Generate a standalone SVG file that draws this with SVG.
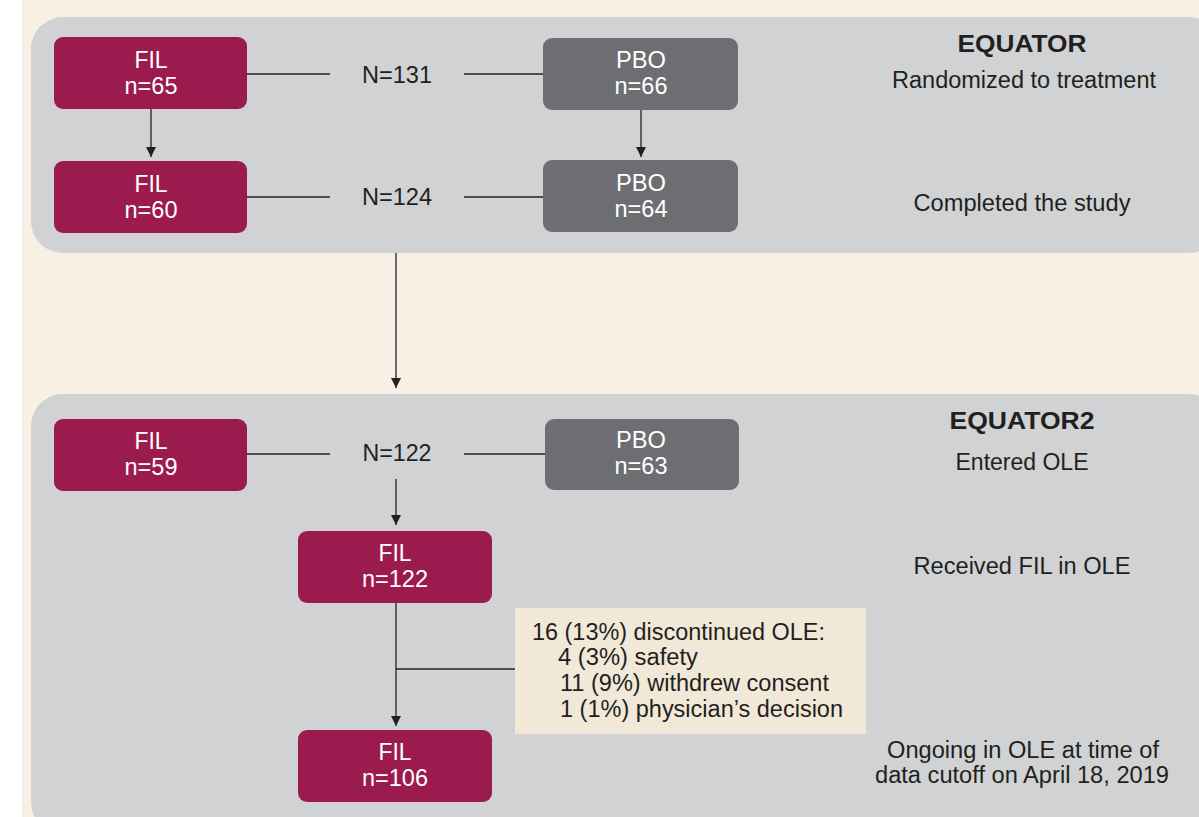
<svg xmlns="http://www.w3.org/2000/svg" width="1199" height="817" viewBox="0 0 1199 817" font-family="'Liberation Sans', Arial, Helvetica, sans-serif">
<style>
text{font-family:'Liberation Sans',Arial,Helvetica,sans-serif;fill:#231f20;font-size:23px}
.w{fill:#ffffff;text-anchor:middle;font-size:23px}
.c{text-anchor:middle}
.b{font-weight:bold;font-size:24px}
.fil{fill:#9b1b4e}
.pbo{fill:#6d6e71}
.panel{fill:#d0d2d3}
.ln{stroke:#231f20;stroke-width:1.3;fill:none}
</style>
<defs>
<marker id="ah" viewBox="0 0 10 10" refX="10" refY="5" markerWidth="10" markerHeight="10" markerUnits="userSpaceOnUse" orient="auto">
<path d="M0,0 L10,5 L0,10 z" fill="#231f20"/>
</marker>
</defs>
<rect x="0" y="0" width="1199" height="817" fill="#ffffff"/>
<rect x="22" y="0" width="1177" height="817" fill="#f8f0e5"/>
<g id="panel-equator">
<rect class="panel" x="31" y="17" width="1190" height="236" rx="32"/>
</g>
<g id="panel-equator2">
<rect class="panel" x="31" y="394" width="1190" height="440" rx="32"/>
</g>
<g id="connectors">
<line class="ln" x1="247" y1="74" x2="330" y2="74"/>
<line class="ln" x1="464" y1="74" x2="543" y2="74"/>
<line class="ln" x1="247" y1="197" x2="330" y2="197"/>
<line class="ln" x1="464" y1="197" x2="543" y2="197"/>
<line class="ln" x1="151" y1="109" x2="151" y2="157" marker-end="url(#ah)"/>
<line class="ln" x1="641" y1="110" x2="641" y2="157" marker-end="url(#ah)"/>
<line class="ln" x1="396" y1="253" x2="396" y2="388" marker-end="url(#ah)"/>
<line class="ln" x1="247" y1="454" x2="330" y2="454"/>
<line class="ln" x1="464" y1="454" x2="545" y2="454"/>
<line class="ln" x1="396" y1="479" x2="396" y2="525" marker-end="url(#ah)"/>
<line class="ln" x1="396" y1="603" x2="396" y2="726" marker-end="url(#ah)"/>
<line class="ln" x1="396" y1="669" x2="515" y2="669"/>
</g>
<g id="n-fil65"><rect class="fil" x="54" y="37" width="193" height="72" rx="9"/><text class="w" x="151" y="68" textLength="33" lengthAdjust="spacingAndGlyphs">FIL</text><text class="w" x="151" y="94" textLength="53" lengthAdjust="spacingAndGlyphs">n=65</text></g>
<g id="n-pbo66"><rect class="pbo" x="543" y="38" width="195" height="72" rx="9"/><text class="w" x="641" y="68" textLength="50" lengthAdjust="spacingAndGlyphs">PBO</text><text class="w" x="641" y="94" textLength="53" lengthAdjust="spacingAndGlyphs">n=66</text></g>
<g id="n-n131"><text class="c" x="397" y="83" textLength="70" lengthAdjust="spacingAndGlyphs">N=131</text></g>
<g id="n-fil60"><rect class="fil" x="54" y="161" width="193" height="72" rx="9"/><text class="w" x="151" y="192" textLength="33" lengthAdjust="spacingAndGlyphs">FIL</text><text class="w" x="151" y="218" textLength="53" lengthAdjust="spacingAndGlyphs">n=60</text></g>
<g id="n-pbo64"><rect class="pbo" x="543" y="160" width="195" height="72" rx="9"/><text class="w" x="641" y="191" textLength="50" lengthAdjust="spacingAndGlyphs">PBO</text><text class="w" x="641" y="217" textLength="53" lengthAdjust="spacingAndGlyphs">n=64</text></g>
<g id="n-n124"><text class="c" x="397" y="205" textLength="70" lengthAdjust="spacingAndGlyphs">N=124</text></g>
<g id="lbl-equator">
<text class="c b" x="1022" y="52" textLength="129" lengthAdjust="spacingAndGlyphs">EQUATOR</text>
<text class="c" x="1024" y="88" textLength="264" lengthAdjust="spacingAndGlyphs">Randomized to treatment</text>
<text class="c" x="1022" y="211" textLength="217" lengthAdjust="spacingAndGlyphs">Completed the study</text>
</g>
<g id="n-fil59"><rect class="fil" x="54" y="419" width="193" height="72" rx="9"/><text class="w" x="151" y="449" textLength="33" lengthAdjust="spacingAndGlyphs">FIL</text><text class="w" x="151" y="475" textLength="53" lengthAdjust="spacingAndGlyphs">n=59</text></g>
<g id="n-n122"><text class="c" x="397" y="461" textLength="69" lengthAdjust="spacingAndGlyphs">N=122</text></g>
<g id="n-pbo63"><rect class="pbo" x="545" y="419" width="194" height="71" rx="9"/><text class="w" x="641" y="448" textLength="50" lengthAdjust="spacingAndGlyphs">PBO</text><text class="w" x="641" y="474" textLength="53" lengthAdjust="spacingAndGlyphs">n=63</text></g>
<g id="lbl-equator2">
<text class="c b" x="1022" y="429" textLength="145" lengthAdjust="spacingAndGlyphs">EQUATOR2</text>
<text class="c" x="1022" y="470" textLength="133" lengthAdjust="spacingAndGlyphs">Entered OLE</text>
<text class="c" x="1022" y="574" textLength="217" lengthAdjust="spacingAndGlyphs">Received FIL in OLE</text>
<text class="c" x="1023" y="758" textLength="272" lengthAdjust="spacingAndGlyphs">Ongoing in OLE at time of</text>
<text class="c" x="1022" y="783" textLength="294" lengthAdjust="spacingAndGlyphs">data cutoff on April 18, 2019</text>
</g>
<g id="n-fil122"><rect class="fil" x="298" y="531" width="194" height="72" rx="9"/><text class="w" x="395" y="561" textLength="33" lengthAdjust="spacingAndGlyphs">FIL</text><text class="w" x="395" y="587" textLength="66" lengthAdjust="spacingAndGlyphs">n=122</text></g>
<g id="n-discontinued">
<rect x="515" y="608" width="351" height="126" fill="#f1e8d8"/>
<text x="532" y="640" textLength="293" lengthAdjust="spacingAndGlyphs">16 (13%) discontinued OLE:</text>
<text x="558" y="665" textLength="140" lengthAdjust="spacingAndGlyphs">4 (3%) safety</text>
<text x="560" y="691" textLength="269" lengthAdjust="spacingAndGlyphs">11 (9%) withdrew consent</text>
<text x="560" y="717" textLength="283" lengthAdjust="spacingAndGlyphs">1 (1%) physician’s decision</text>
</g>
<g id="n-fil106"><rect class="fil" x="298" y="730" width="194" height="72" rx="9"/><text class="w" x="395" y="760" textLength="33" lengthAdjust="spacingAndGlyphs">FIL</text><text class="w" x="395" y="786" textLength="66" lengthAdjust="spacingAndGlyphs">n=106</text></g>
</svg>
